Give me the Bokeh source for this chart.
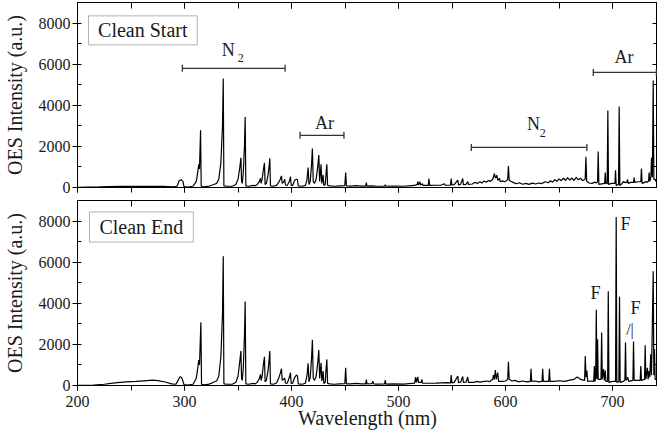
from bokeh.plotting import figure
from bokeh.models import (Range1d, LinearAxis, SingleIntervalTicker, BoxAnnotation,
                          Label, Arrow, TeeHead)
from bokeh.layouts import column
from bokeh.embed import file_html
from bokeh.resources import INLINE

# ---- data: spectrum vertices (wavelength nm, intensity a.u.) ----
start_spectrum = [
    (200, 10), (220, 30), (240, 55), (260, 60), (280, 50), (290, 30), (293, 60), (295, 330),
    (297, 380), (298.5, 300), (299.5, 40), (303, 20), (308, 60), (311, 300), (312.5, 800),
    (313.3, 1130), (314, 900), (315, 2780), (315.6, 60), (318, 30), (322, 50), (326, 120),
    (328, 160), (330, 200), (332, 400), (334, 1200), (335.5, 3000), (336.2, 5300), (336.8, 80),
    (340, 60), (345, 70), (348, 150), (350, 400), (351.5, 900), (352.7, 1450), (353.3, 300),
    (354, 200), (355, 800), (356, 2000), (356.7, 3430), (357.3, 80), (360, 60), (364, 100),
    (366, 80), (368, 150), (370, 300), (371, 450), (371.6, 200), (372.5, 400), (373.8, 900),
    (374.7, 1200), (375.3, 150), (376.5, 200), (378, 600), (379, 1000), (379.7, 1420),
    (380.3, 80), (383, 60), (386, 100), (388, 250), (389.5, 400), (390.6, 565), (391.3, 200),
    (392.5, 250), (393.7, 400), (394.3, 120), (396, 100), (398, 300), (399, 530), (399.7, 100),
    (401, 100), (403, 350), (404.6, 400), (405.5, 380), (406.3, 80), (410, 60), (413, 100),
    (414.5, 400), (415.5, 970), (416.3, 150), (417.5, 300), (418.7, 1100), (419.5, 1900),
    (420.3, 300), (421.5, 200), (423, 400), (424.5, 1000), (425.5, 1580), (426.3, 300),
    (427, 700), (427.6, 1130), (428.3, 200), (429, 400), (429.5, 615), (430.2, 100),
    (431.5, 150), (432.3, 700), (433, 1130), (433.7, 100), (436, 80), (440, 60), (445, 80),
    (449.8, 90), (450.6, 730), (451.3, 80), (455, 70), (460, 90), (465, 70), (469.3, 70),
    (469.9, 240), (470.5, 70), (475, 80), (480, 60), (487, 70), (487.6, 130), (488.2, 60),
    (495, 70), (505, 60), (512, 90), (515, 100), (517.5, 150), (518, 290), (518.6, 120),
    (520, 280), (520.6, 120), (522.3, 180), (523, 100), (527.8, 100), (528.4, 440), (529, 100),
    (535, 110), (540, 120), (543, 180), (543.6, 110), (548.6, 120), (549.2, 440), (549.8, 120),
    (552, 140), (555.4, 355), (556, 130), (558, 150), (560, 440), (560.6, 140), (563, 150),
    (564.7, 290), (565.3, 150), (569, 170), (571, 250), (574, 200), (576, 280), (578, 220),
    (580, 320), (582, 260), (584, 340), (586, 300), (588, 400), (589.6, 680), (590.5, 450),
    (591.8, 600), (592.8, 350), (594.3, 450), (595, 280), (597, 320), (599, 280), (601, 330),
    (602, 400), (602.7, 1050), (603.4, 350), (605, 300), (607, 250), (610, 180), (613, 230),
    (616, 160), (619, 200), (622, 150), (625, 210), (628, 170), (631, 220), (634, 190),
    (637, 280), (640, 230), (642, 330), (644, 260), (646, 380), (648, 300), (650, 420),
    (652, 330), (654, 450), (656, 350), (658, 480), (660, 360), (662, 460), (664, 340),
    (666, 500), (668, 370), (670, 450), (672, 330), (674.4, 400), (675.1, 1490), (675.8, 300),
    (678, 220), (681, 200), (683, 260), (685, 220), (686, 300), (686.6, 1750), (687.2, 150),
    (690, 180), (692.6, 200), (693.2, 730), (693.8, 180), (695, 200), (695.6, 3750),
    (696.2, 150), (699, 200), (702.2, 200), (702.8, 840), (703.4, 100), (705.6, 150),
    (706.2, 3940), (706.8, 100), (709, 200), (710.3, 300), (711, 250), (713.4, 250), (714, 400),
    (714.6, 200), (717, 250), (719.6, 250), (720.2, 485), (720.8, 250), (724, 280),
    (726.4, 280), (727, 920), (727.6, 200), (730, 250), (731, 300), (732, 250), (733.6, 300),
    (734.2, 730), (734.8, 300), (735.8, 500), (736.4, 1450), (737.2, 500), (738, 5200),
    (738.6, 400), (739.8, 400), (740.5, 300), (745, 300), (750, 300),
]

end_spectrum = [
    (200, 10), (215, 20), (225, 60), (235, 130), (245, 180), (255, 200), (265, 240), (270, 260),
    (275, 240), (282, 170), (288, 80), (292, 60), (294, 250), (295.8, 425), (297, 400),
    (298, 300), (299.5, 40), (303, 20), (308, 60), (311, 350), (312.5, 900), (313.3, 1240),
    (314, 1000), (315.3, 3070), (315.9, 60), (318, 30), (322, 50), (326, 130), (328, 180),
    (330, 220), (332, 450), (334, 1400), (335.5, 3500), (336.2, 6290), (336.8, 80), (340, 60),
    (345, 70), (348, 160), (350, 450), (351.5, 1100), (352.7, 1680), (353.3, 350), (354, 250),
    (355, 900), (356, 2400), (356.7, 4090), (357.3, 80), (360, 60), (364, 100), (366, 80),
    (368, 160), (370, 350), (371, 540), (371.6, 250), (372.5, 450), (373.8, 1050),
    (374.7, 1400), (375.3, 180), (376.5, 250), (378, 700), (379, 1200), (379.7, 1680),
    (380.3, 80), (383, 60), (386, 120), (388, 350), (389.5, 600), (390.6, 815), (391.3, 250),
    (392.5, 300), (393.7, 350), (394.3, 120), (396, 110), (398, 400), (399, 620), (399.7, 100),
    (401, 110), (403, 400), (404.6, 510), (405.5, 480), (406.3, 80), (410, 60), (413, 110),
    (414.5, 500), (415.5, 1075), (416.3, 180), (417.5, 400), (418.7, 1300), (419.5, 2220),
    (420.3, 350), (421.5, 250), (423, 450), (424.5, 1100), (425.5, 1730), (426.3, 350),
    (427, 750), (427.6, 1100), (428.3, 220), (429, 450), (429.5, 700), (430.2, 100),
    (431.5, 160), (432.3, 800), (433, 1270), (433.7, 100), (436, 80), (440, 60), (445, 80),
    (449.8, 90), (450.6, 865), (451.3, 80), (455, 80), (460, 100), (465, 80), (469.3, 80),
    (469.9, 290), (470.5, 80), (475, 90), (476.1, 200), (476.7, 80), (480, 70), (487, 80),
    (487.6, 260), (488.2, 70), (495, 80), (505, 70), (512, 100), (515, 120), (516, 410),
    (516.6, 150), (518, 420), (518.6, 150), (521.2, 150), (521.8, 300), (522.4, 110),
    (528, 110), (535, 120), (540, 130), (545, 140), (548.6, 130), (549.2, 510), (549.8, 130),
    (552, 150), (555.4, 460), (556, 140), (558, 160), (560, 440), (560.6, 150), (563, 160),
    (564.7, 410), (565.3, 150), (570, 150), (574, 200), (576, 160), (580, 200), (583.4, 220),
    (585, 180), (588, 300), (588.7, 500), (589.5, 300), (590.5, 750), (591.3, 300),
    (592.7, 620), (593.5, 200), (597, 200), (600, 220), (602, 300), (602.7, 1160),
    (603.4, 300), (606, 220), (609, 250), (612, 180), (616, 220), (620, 180), (623.2, 200),
    (623.8, 815), (624.4, 200), (628, 220), (631, 180), (634.1, 200), (634.7, 815),
    (635.3, 200), (638, 200), (640.4, 200), (641, 815), (641.6, 200), (645, 200), (650, 230),
    (655, 200), (660, 260), (664, 300), (667, 410), (670, 300), (673.9, 250), (674.5, 1440),
    (675.2, 400), (676, 730), (676.8, 200), (680, 220), (682.4, 200), (683, 950), (683.6, 200),
    (684.2, 400), (684.8, 3690), (685.4, 300), (686, 2250), (686.6, 300), (689.2, 300),
    (689.8, 2580), (690.4, 300), (691.6, 800), (692.3, 250), (693.2, 730), (693.8, 200),
    (695.4, 200), (696, 4580), (696.6, 150), (700, 200), (702.8, 200), (703.4, 8200),
    (704, 150), (705.9, 200), (706.5, 4320), (707.1, 150), (710, 200), (711.5, 250),
    (712.1, 2090), (712.7, 250), (714.3, 400), (715, 200), (719, 250), (719.6, 2140),
    (720.2, 250), (723, 250), (725.8, 250), (726.4, 950), (727, 250), (729.9, 300),
    (730.5, 1960), (731.1, 300), (732.6, 865), (733.2, 300), (734.2, 700), (734.8, 400),
    (735.7, 1520), (736.4, 500), (738, 5560), (738.6, 500), (739.2, 1760), (739.8, 300),
    (742, 300), (745, 250), (750, 250),
]

panel_titles = ["Clean Start", "Clean End"]
x_label = "Wavelength (nm)"
y_label = "OES Intensity (a.u.)"

# bracket annotations in the top panel: (x_start, x_end, y)
top_brackets = [(298, 394, 5800), (408, 449, 2540), (568, 676, 1950), (682, 741, 5600)]

FONT = "Liberation Serif"
INK = "#1a1a1a"


def hide_labels(ax):
    ax.major_label_text_font_size = "1px"
    ax.major_label_text_color = None
    ax.major_label_standoff = 0


def make_panel(min_top, min_bottom, show_xlabels):
    p = figure(frame_width=580, frame_height=185, output_backend="svg", toolbar_location=None,
               x_range=Range1d(200, 742), y_range=Range1d(0, 9000),
               min_border_left=71, min_border_right=0,
               min_border_top=min_top, min_border_bottom=min_bottom,
               outline_line_color="black", outline_line_width=1,
               background_fill_color="white", border_fill_color="white")
    p.grid.visible = False

    xt = SingleIntervalTicker(interval=100, num_minor_ticks=2)
    yt = SingleIntervalTicker(interval=2000, num_minor_ticks=2)

    xb = p.xaxis[0]
    xb.ticker = xt
    xb.axis_line_color = "black"
    xb.major_tick_out = 5
    xb.major_tick_in = 0
    xb.minor_tick_out = 5
    xb.minor_tick_in = 0
    if show_xlabels:
        xb.major_label_text_font = FONT
        xb.major_label_text_font_size = "16px"
        xb.major_label_text_color = INK
        xb.major_label_standoff = 5
        xb.axis_label = x_label
        xb.axis_label_text_font = FONT
        xb.axis_label_text_font_size = "20px"
        xb.axis_label_text_font_style = "normal"
        xb.axis_label_text_color = INK
        xb.axis_label_standoff = -3
    else:
        hide_labels(xb)

    yl = p.yaxis[0]
    yl.ticker = yt
    yl.major_tick_out = 5
    yl.major_tick_in = 0
    yl.minor_tick_out = 0
    yl.minor_tick_in = 4
    yl.major_label_text_font = FONT
    yl.major_label_text_font_size = "16px"
    yl.major_label_text_color = INK
    yl.major_label_standoff = 2
    yl.axis_label = y_label
    yl.axis_label_text_font = FONT
    yl.axis_label_text_font_size = "20px"
    yl.axis_label_text_font_style = "normal"
    yl.axis_label_text_color = INK
    yl.axis_label_standoff = 10

    xa = LinearAxis(ticker=xt, major_tick_in=6, major_tick_out=0, minor_tick_in=6, minor_tick_out=0)
    hide_labels(xa)
    p.add_layout(xa, "above")
    yr = LinearAxis(ticker=yt, major_tick_in=5, major_tick_out=0, minor_tick_in=4, minor_tick_out=0)
    hide_labels(yr)
    p.add_layout(yr, "right")
    return p


p1 = make_panel(2, 13, False)
p2 = make_panel(0, 0, True)

for p, spec in ((p1, start_spectrum), (p2, end_spectrum)):
    wl = [a for a, b in spec]
    iv = [b for a, b in spec]
    p.line(wl, iv, line_color="black", line_width=1.2)

# panel title boxes
p1.add_layout(BoxAnnotation(left=210.3, right=311.9, bottom=6940, top=8350,
                            fill_color="white", fill_alpha=1, line_color="black", line_width=1))
p1.add_layout(Label(x=261, y=7645, text=panel_titles[0], text_align="center", text_baseline="middle",
                    text_font=FONT, text_font_size="20px", text_color=INK))
p2.add_layout(BoxAnnotation(left=211.2, right=308.2, bottom=6980, top=8445,
                            fill_color="white", fill_alpha=1, line_color="black", line_width=1))
p2.add_layout(Label(x=259.7, y=7712, text=panel_titles[1], text_align="center", text_baseline="middle",
                    text_font=FONT, text_font_size="20px", text_color=INK))

# brackets
for x0, x1, y in top_brackets:
    p1.add_layout(Arrow(x_start=x0, y_start=y, x_end=x1, y_end=y, line_color="#333333", line_width=1.3,
                        start=TeeHead(size=7, line_color="#333333", line_width=1.3),
                        end=TeeHead(size=7, line_color="#333333", line_width=1.3)))

top_texts = [(340.9, 6710, "N", "18px"), (352.5, 6300, "2", "12px"),
             (430.7, 3150, "Ar", "18px"),
             (626.1, 3070, "N", "18px"), (634.7, 2670, "2", "12px"),
             (710.8, 6340, "Ar", "18px")]
for x, y, t, fs in top_texts:
    p1.add_layout(Label(x=x, y=y, text=t, text_align="center", text_baseline="middle",
                        text_font=FONT, text_font_size=fs, text_color=INK))

bottom_texts = [(712.1, 7834, "F", "18px"), (684.1, 4484, "F", "18px"),
                (721.5, 3750, "F", "18px"), (716.3, 2748, "/|", "16px")]
for x, y, t, fs in bottom_texts:
    p2.add_layout(Label(x=x, y=y, text=t, text_align="center", text_baseline="middle",
                        text_font=FONT, text_font_size=fs, text_color=INK))

layout = column(p1, p2, spacing=0)
open("out.html", "w").write(file_html(layout, INLINE))
